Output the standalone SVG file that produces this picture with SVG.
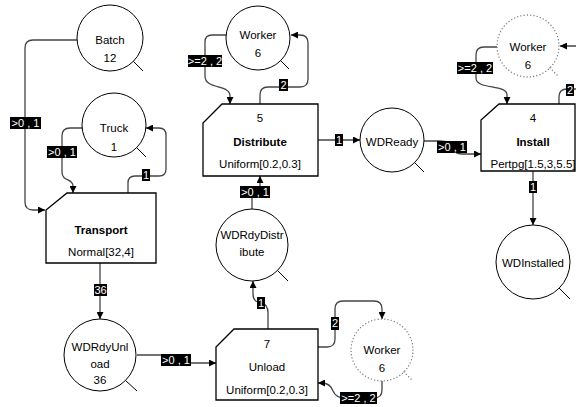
<svg xmlns="http://www.w3.org/2000/svg" width="576" height="407" viewBox="0 0 576 407">
<defs>
<marker id="ah" viewBox="0 0 10 10" refX="10" refY="5" markerWidth="7" markerHeight="7" markerUnits="userSpaceOnUse" orient="auto">
<path d="M0,0 L10,5 L0,10 z" fill="#000"/>
</marker>
<style>
text{font-family:"Liberation Sans",Arial,sans-serif;font-size:11.5px;fill:#000;text-anchor:middle}
.b{font-weight:bold}
.place{fill:#fff;stroke:#000;stroke-width:1}
.dot{fill:#fff;stroke:#777;stroke-width:1.3;stroke-dasharray:0.1 3.2;stroke-linecap:round}
.tail{stroke:#000;stroke-width:1;fill:none}
.dtail{stroke:#777;stroke-width:1.3;stroke-dasharray:0.1 3.2;stroke-linecap:round;fill:none}
.act{fill:#fff;stroke:#000;stroke-width:1.3}
.c{fill:none;stroke:#444;stroke-width:1.3}
.lb{fill:#000}
.lt{fill:#fff;font-size:11px}
</style>
</defs>
<rect width="576" height="407" fill="#fff"/>

<g id="connectors">
<path class="c" d="M77,40 H33 Q25,40 25,48 V202 Q25,210 33,210 H45" marker-end="url(#ah)"/>
<path class="c" d="M83,128 H70 Q62,128 62,136 V172 C62,182 73,178 73,186 V193" marker-end="url(#ah)"/>
<path class="c" d="M128,193 V183 Q128,176 135,176 H159 Q166,176 166,169 V135 Q166,128 159,128 H146" marker-end="url(#ah)"/>
<path class="c" d="M100,263 V319" marker-end="url(#ah)"/>
<path class="c" d="M137,355 H170 Q178,355 180,359 Q182,363 190,363 H216" marker-end="url(#ah)"/>
<path class="c" d="M268,329 V313 Q268,304 261,303 Q253,302 253,294 V281" marker-end="url(#ah)"/>
<path class="c" d="M252,209 V195 Q252,190 256,190 Q260,190 260,186 V176" marker-end="url(#ah)"/>
<path class="c" d="M226,35 H212 Q205,35 205,42 V76 C205,90 230,84 230,96 V104" marker-end="url(#ah)"/>
<path class="c" d="M260,104 V95 Q260,87 268,87 H300 Q308,87 308,79 V43 Q308,35 300,35 H291" marker-end="url(#ah)"/>
<path class="c" d="M318,140 H360" marker-end="url(#ah)"/>
<path class="c" d="M424,141 H440 Q450,141 452,147 Q454,154 462,154 H481" marker-end="url(#ah)"/>
<path class="c" d="M497,47 H484 Q476,47 476,55 V78 C476,90 507,84 507,95 V104" marker-end="url(#ah)"/>
<path class="c" d="M559,104 V97 Q559,89 567,89 H580 Q588,89 588,81 V54 Q588,46 580,46 H560" marker-end="url(#ah)"/>
<path class="c" d="M533,171 V225" marker-end="url(#ah)"/>
<path class="c" d="M318,347 H327 Q335,347 335,339 V309 Q335,301 343,301 H374 Q382,301 382,309 V319" marker-end="url(#ah)"/>
<path class="c" d="M382,381 V390 Q382,398 374,398 H345 Q336,398 333,391 Q330,383 322,383 H318" marker-end="url(#ah)"/>

<rect class="lb" x="10" y="117" width="31" height="12"/><text class="lt" x="25.5" y="127">&gt;0 , 1</text>
<rect class="lb" x="47" y="146" width="30" height="12"/><text class="lt" x="62" y="156">&gt;0 , 1</text>
<rect class="lb" x="142" y="169" width="8" height="12"/><text class="lt" x="146" y="179">1</text>
<rect class="lb" x="94" y="284" width="13" height="12"/><text class="lt" x="100.5" y="294">36</text>
<rect class="lb" x="161" y="354" width="30" height="12"/><text class="lt" x="176" y="364">&gt;0 , 1</text>
<rect class="lb" x="257" y="297" width="8" height="12"/><text class="lt" x="261" y="307">1</text>
<rect class="lb" x="240" y="186" width="30" height="12"/><text class="lt" x="255" y="196">&gt;0 , 1</text>
<rect class="lb" x="188" y="55" width="34" height="12"/><text class="lt" x="205" y="65">&gt;=2 , 2</text>
<rect class="lb" x="279" y="79" width="9" height="12"/><text class="lt" x="283.5" y="89">2</text>
<rect class="lb" x="335" y="134" width="8" height="12"/><text class="lt" x="339" y="144">1</text>
<rect class="lb" x="437" y="141" width="30" height="12"/><text class="lt" x="452" y="151">&gt;0 , 1</text>
<rect class="lb" x="457" y="62" width="36" height="12"/><text class="lt" x="475" y="72">&gt;=2 , 2</text>
<rect class="lb" x="566" y="84" width="8" height="12"/><text class="lt" x="570" y="94">2</text>
<rect class="lb" x="529" y="181" width="8" height="12"/><text class="lt" x="533" y="191">1</text>
<rect class="lb" x="331" y="317" width="8" height="13"/><text class="lt" x="335" y="327">2</text>
<rect class="lb" x="340" y="392" width="37" height="12"/><text class="lt" x="358.5" y="402">&gt;=2 , 2</text>
</g>

<g id="batch">
<circle class="place" cx="110" cy="38" r="33"/>
<line class="tail" x1="133.3" y1="61.3" x2="143" y2="71"/>
<text x="110" y="44">Batch</text><text x="110" y="62">12</text>
</g>
<g id="truck">
<circle class="place" cx="114" cy="125" r="32"/>
<line class="tail" x1="136.6" y1="147.6" x2="146" y2="157"/>
<text x="114" y="132">Truck</text><text x="114" y="151">1</text>
</g>
<g id="worker1">
<circle class="place" cx="258" cy="38" r="32"/>
<line class="tail" x1="280.6" y1="60.6" x2="289" y2="69"/>
<text x="258" y="39">Worker</text><text x="258" y="57">6</text>
</g>
<g id="worker2">
<circle class="dot" cx="528" cy="46" r="31"/>
<line class="dtail" x1="550" y1="68" x2="558" y2="76"/>
<text x="528" y="51">Worker</text><text x="528" y="69">6</text>
</g>
<g id="worker3">
<circle class="dot" cx="382" cy="350" r="31"/>
<line class="dtail" x1="404" y1="372" x2="413" y2="381"/>
<text x="382" y="354">Worker</text><text x="382" y="372">6</text>
</g>
<g id="wdready">
<circle class="place" cx="392" cy="140" r="32"/>
<line class="tail" x1="414.6" y1="162.6" x2="424" y2="172"/>
<text x="392" y="146">WDReady</text>
</g>
<g id="wdrdydistribute">
<circle class="place" cx="252" cy="245" r="36"/>
<line class="tail" x1="277.5" y1="270.5" x2="288" y2="281"/>
<text x="252" y="239">WDRdyDistr</text><text x="252" y="256">ibute</text>
</g>
<g id="wdrdyunload">
<circle class="place" cx="100" cy="355" r="36"/>
<line class="tail" x1="125.5" y1="380.5" x2="137" y2="391"/>
<text x="100" y="351">WDRdyUnl</text><text x="100" y="368">oad</text><text x="100" y="384">36</text>
</g>
<g id="wdinstalled">
<circle class="place" cx="533" cy="262" r="37"/>
<line class="tail" x1="559" y1="288" x2="570" y2="299"/>
<text x="533" y="267">WDInstalled</text>
</g>

<g id="transport">
<polygon class="act" points="67,193 156,193 156,263 46,263 46,210"/>
<text class="b" x="101" y="234">Transport</text><text x="101" y="256">Normal[32,4]</text>
</g>
<g id="distribute">
<polygon class="act" points="222,104 318,104 318,176 203,176 203,123"/>
<text x="260" y="122">5</text><text class="b" x="260" y="146">Distribute</text><text x="260" y="168">Uniform[0.2,0.3]</text>
</g>
<g id="install">
<polygon class="act" points="499,104 575,104 575,171 481,171 481,120"/>
<text x="533" y="122">4</text><text class="b" x="533" y="146">Install</text><text x="533" y="168">Pertpg[1.5,3,5.5]</text>
</g>
<g id="unload">
<polygon class="act" points="234,329 318,329 318,400 216,400 216,347"/>
<text x="267" y="348">7</text><text x="267" y="371">Unload</text><text x="267" y="394">Uniform[0.2,0.3]</text>
</g>
</svg>
